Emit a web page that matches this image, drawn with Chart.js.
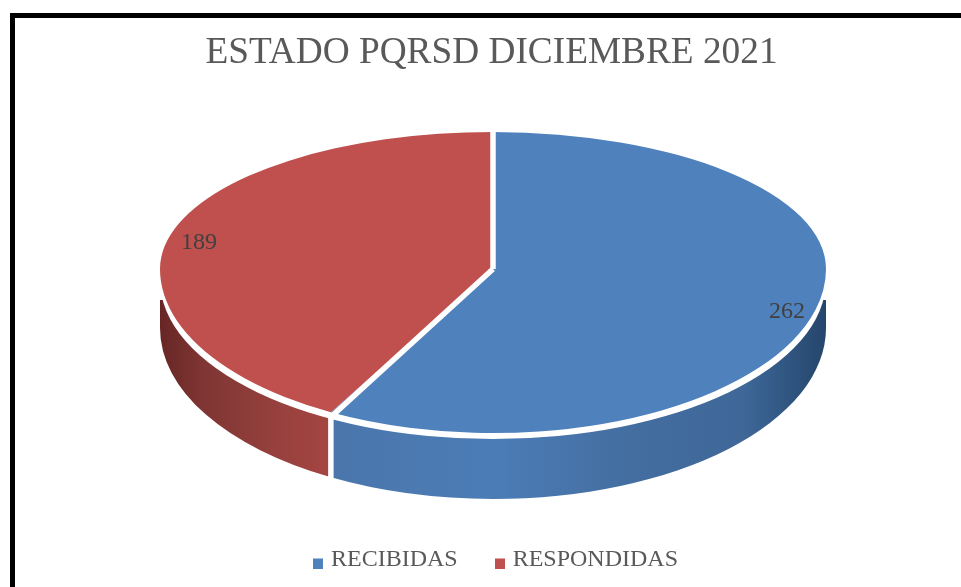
<!DOCTYPE html>
<html>
<head>
<meta charset="utf-8">
<title>Estado PQRSD</title>
<script src="https://cdn.jsdelivr.net/npm/chart.js@4"></script>
<style>
  html, body { margin: 0; padding: 0; background: #fff; overflow: hidden; }
  #wrap { position: relative; width: 961px; height: 587px; }
  #frame { position: absolute; left: 10px; top: 13px; right: -10px; bottom: -10px; border-left: 5px solid #000; border-top: 5px solid #000; }
  #pieChart { position: absolute; left: 0; top: 0; }
</style>
</head>
<body>
<div id="wrap">
  <div id="frame"></div>
  <canvas id="pieChart" width="961" height="587"></canvas>
</div>
<script>
'use strict'

var titleText = 'ESTADO PQRSD DICIEMBRE 2021';
var categories = ['RECIBIDAS', 'RESPONDIDAS'];
var values = [262, 189];
var colors = ['#4f81bd', '#c0504d'];

// Look of the tilted disc, in pixels
var CENTER_X = 493;
var CENTER_Y = 269;
var RX = 333;
var RY_TOP = 137;
var RY_BOTTOM = 164;
var GAP = 5.5;
var BAND_CENTER_Y = 280;
var BAND_RY = 159;
var SIDE_START_Y = 300;
var SIDE_CENTER_Y = 328;
var SIDE_RY = 171;
var SERIF = '"Liberation Serif", "Times New Roman", serif';

// Side gradient stops per slice
var sideStops = [
  [[0, '#4a76ab'], [0.33, '#4c7cb6'], [0.62, '#436d9f'], [0.83, '#3f6899'], [0.93, '#2f547f'], [1, '#25466c']],
  [[0, '#672624'], [0.24, '#7e3533'], [0.66, '#95403d'], [1, '#a64542']]
];

// Legend square sits low against the text, like the original
function legendMarker(color) {
  var c = document.createElement('canvas');
  c.width = 10;
  c.height = 17;
  var g = c.getContext('2d');
  g.fillStyle = color;
  g.fillRect(0, 7, 10, 10);
  return c;
}

function drawSide(ctx, arc, stops) {
  // Only the front half of the slice shows a side
  var from = Math.max(arc.startAngle, 0);
  var to = Math.min(arc.endAngle, Math.PI);
  if (to <= from) return;
  var x0 = CENTER_X + RX * Math.cos(to);
  var x1 = CENTER_X + RX * Math.cos(from);
  var grad = ctx.createLinearGradient(x0, 0, x1, 0);
  stops.forEach(function(s) { grad.addColorStop(s[0], s[1]); });

  ctx.save();
  ctx.beginPath();
  ctx.rect(0, SIDE_START_Y, 961, 587 - SIDE_START_Y);
  ctx.clip();
  ctx.beginPath();
  ctx.moveTo(x1, CENTER_Y);
  ctx.lineTo(x1, SIDE_CENTER_Y + SIDE_RY * Math.sin(from));
  ctx.ellipse(CENTER_X, SIDE_CENTER_Y, RX, SIDE_RY, 0, from, to);
  ctx.lineTo(x0, CENTER_Y);
  ctx.closePath();
  ctx.fillStyle = grad;
  ctx.fill();
  ctx.restore();
}

var disc3d = {
  id: 'disc3d',
  afterLayout: function(chart) {
    // Title and legend are not centred on the same line as the disc
    chart.titleBlock.left += 11;
    chart.titleBlock.right += 11;
    chart.legend.left += 17;
    chart.legend.right += 17;
    chart.legend.top += 1;
    chart.legend.bottom += 1;
  },
  beforeDatasetDraw: function(chart, args) {
    var ctx = chart.ctx;
    var meta = chart.getDatasetMeta(args.index);
    var arcs = meta.data;
    var cx = arcs[0].x;
    var cy = arcs[0].y;
    var r = arcs[0].outerRadius;

    // Sides first
    arcs.forEach(function(arc, i) { drawSide(ctx, arc, sideStops[i]); });

    // White band between the side and the top
    ctx.save();
    ctx.beginPath();
    ctx.ellipse(CENTER_X, BAND_CENTER_Y, RX, BAND_RY, 0, 0, Math.PI);
    ctx.fillStyle = '#fff';
    ctx.fill();
    ctx.restore();

    // Top face: the library's own arcs, squashed, back half and front half
    [RY_TOP, RY_BOTTOM].forEach(function(ry, n) {
      ctx.save();
      ctx.beginPath();
      ctx.rect(0, n === 0 ? 0 : CENTER_Y, 961, n === 0 ? CENTER_Y + 0.5 : 587 - CENTER_Y);
      ctx.clip();
      ctx.translate(CENTER_X, CENTER_Y);
      ctx.scale(RX / r, ry / r);
      ctx.translate(-cx, -cy);
      meta.controller.draw();
      ctx.restore();
    });

    // White separators on the top and on the side
    ctx.save();
    ctx.strokeStyle = '#fff';
    ctx.lineWidth = GAP;
    arcs.forEach(function(arc) {
      var a = arc.startAngle;
      var front = Math.sin(a) > 0;
      var x = CENTER_X + RX * Math.cos(a);
      var y = CENTER_Y + (front ? RY_BOTTOM + GAP : RY_TOP) * Math.sin(a);
      ctx.beginPath();
      ctx.moveTo(CENTER_X, CENTER_Y);
      ctx.lineTo(x, y);
      ctx.stroke();
      if (front) {
        ctx.beginPath();
        ctx.moveTo(x, y);
        ctx.lineTo(x, SIDE_CENTER_Y + SIDE_RY * Math.sin(a) + 2);
        ctx.stroke();
      }
    });
    ctx.restore();

    // Value labels near the rim
    ctx.save();
    ctx.font = '24px ' + SERIF;
    ctx.fillStyle = '#404040';
    ctx.textAlign = 'center';
    ctx.textBaseline = 'middle';
    arcs.forEach(function(arc, i) {
      var mid = (arc.startAngle + arc.endAngle) / 2;
      var ry = Math.sin(mid) > 0 ? RY_BOTTOM : RY_TOP;
      var x = CENTER_X + RX * 0.912 * Math.cos(mid);
      var y = CENTER_Y + ry * 0.912 * Math.sin(mid) + 5;
      ctx.fillText(String(values[i]), x, y);
    });
    ctx.restore();

    return false;
  }
};

new Chart(document.getElementById('pieChart'), {
  type: 'pie',
  plugins: [disc3d],
  data: {
    labels: categories,
    datasets: [{
      data: values,
      backgroundColor: colors,
      borderWidth: 0
    }]
  },
  options: {
    responsive: false,
    animation: false,
    layout: { padding: { top: 31, bottom: 6 } },
    plugins: {
      tooltip: { enabled: false },
      title: {
        display: true,
        text: titleText,
        color: '#595959',
        font: { family: SERIF, size: 37.3, weight: 'normal' },
        padding: { top: 0, bottom: 20 }
      },
      legend: {
        position: 'bottom',
        labels: {
          color: '#595959',
          font: { family: SERIF, size: 24 },
          usePointStyle: true,
          boxWidth: 2,
          boxHeight: 10,
          padding: 41,
          generateLabels: function(chart) {
            return Chart.overrides.pie.plugins.legend.labels.generateLabels(chart).map(function(item, i) {
              item.pointStyle = legendMarker(colors[i]);
              return item;
            });
          }
        }
      }
    }
  }
});
</script>
</body>
</html>
